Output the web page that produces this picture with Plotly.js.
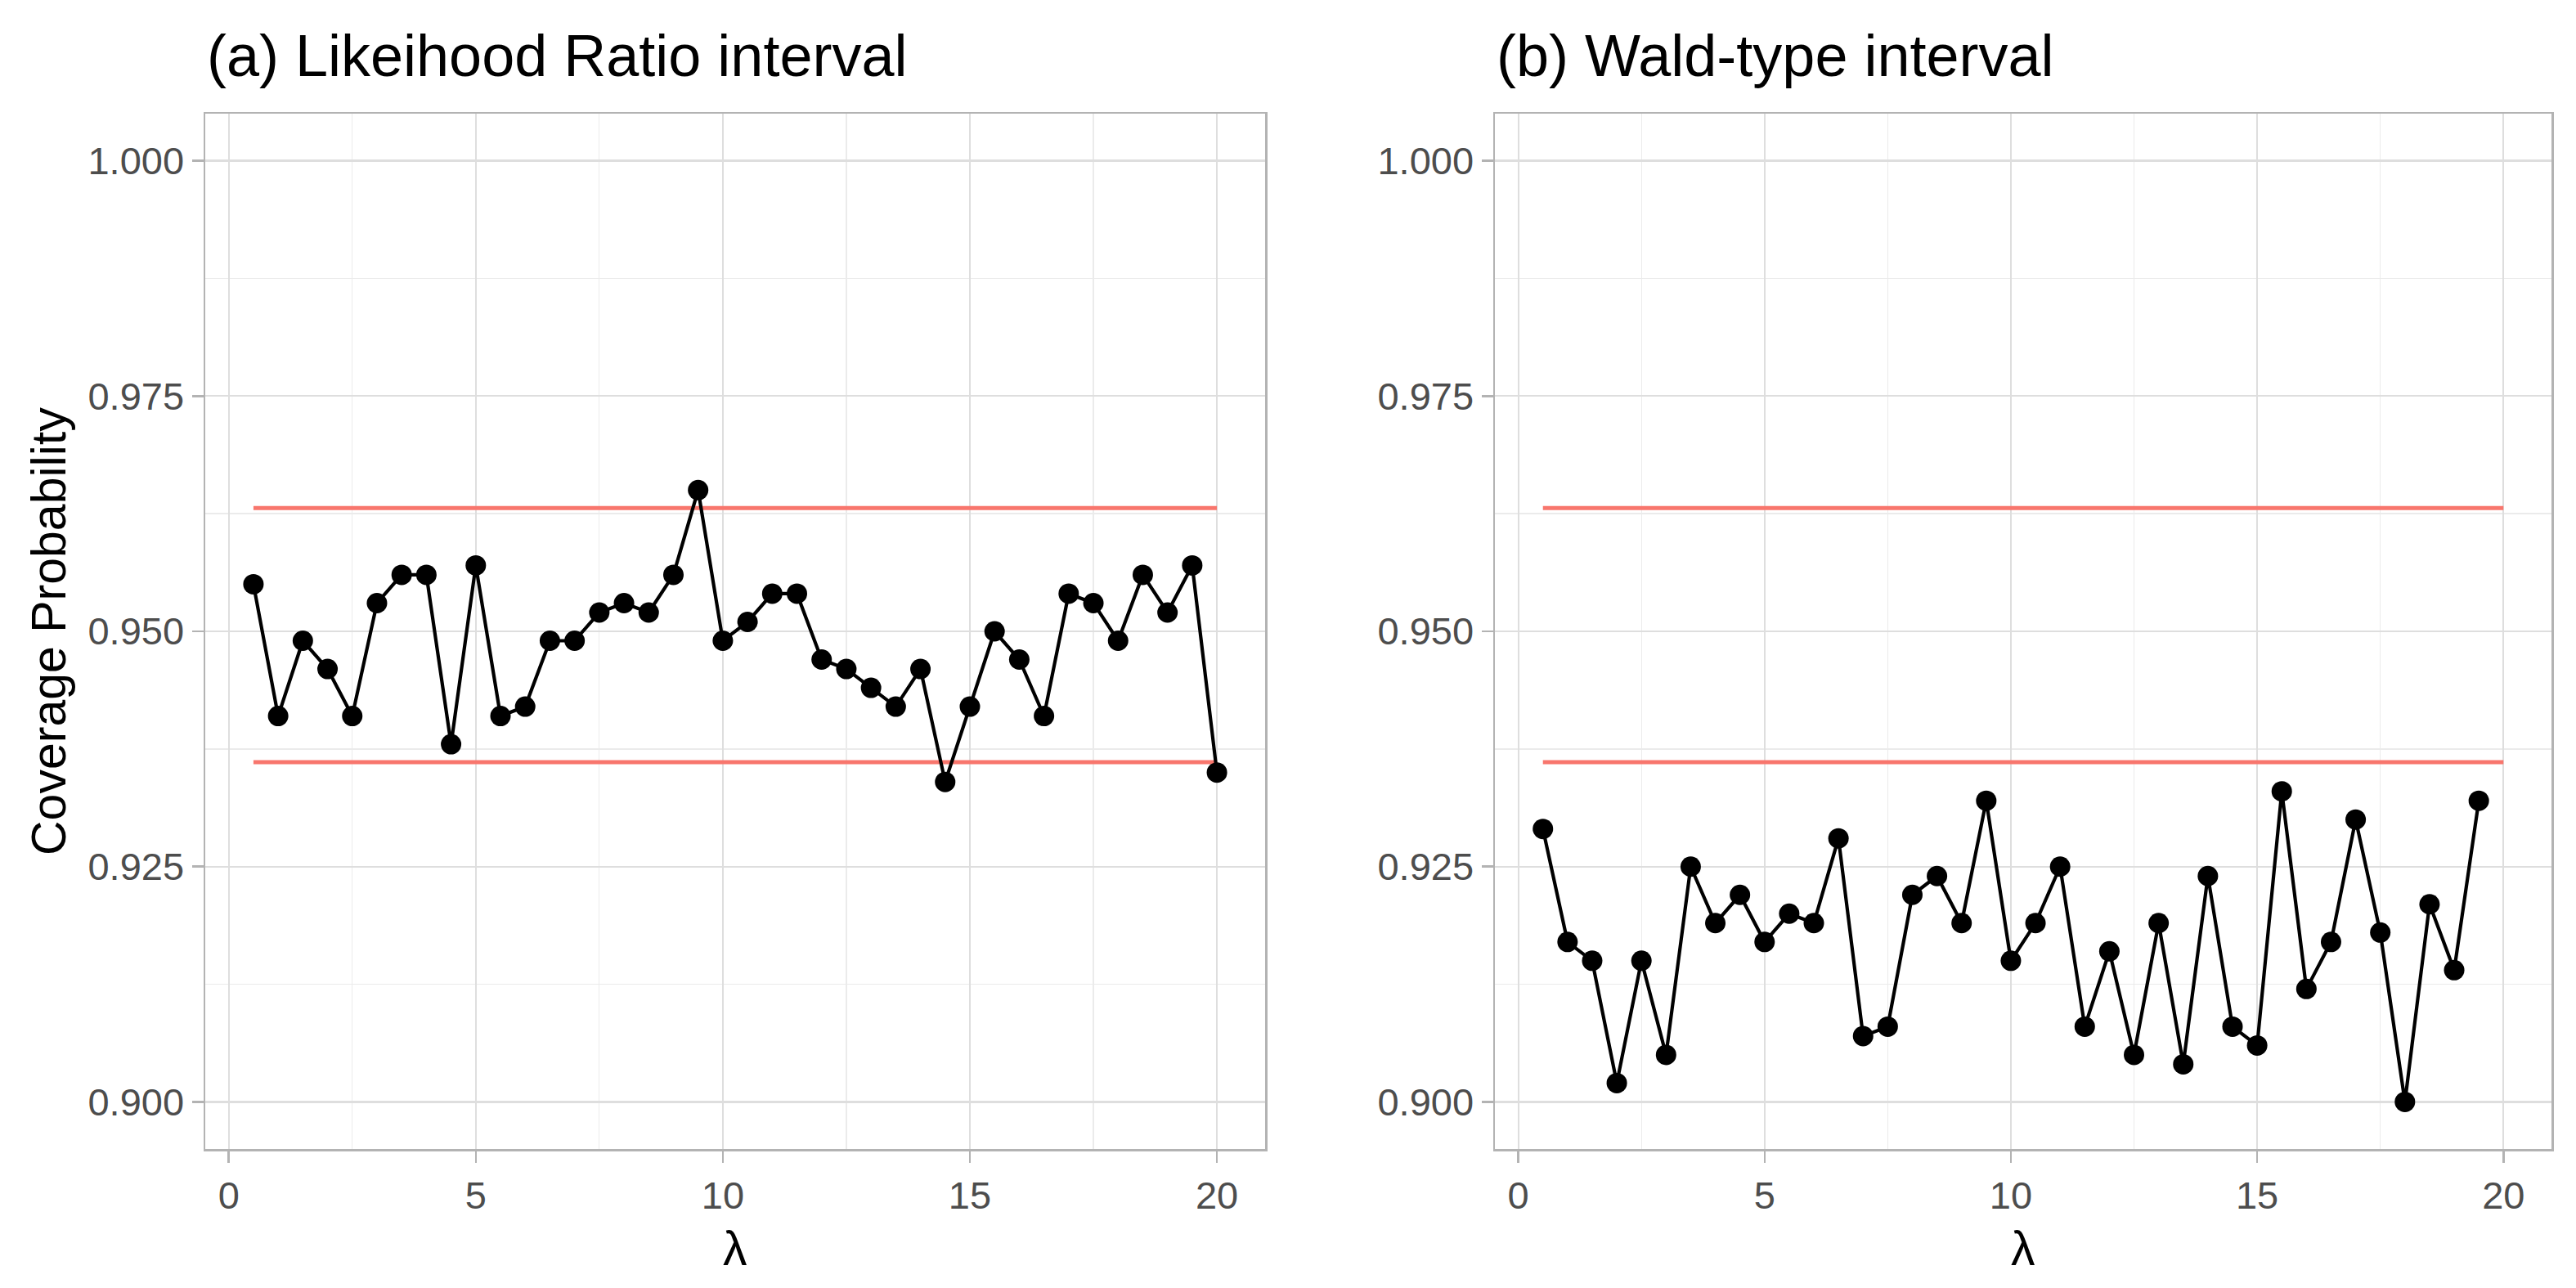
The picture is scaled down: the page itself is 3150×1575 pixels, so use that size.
<!DOCTYPE html>
<html>
<head>
<meta charset="utf-8">
<script src="https://cdn.plot.ly/plotly-3.0.1.min.js"></script>
<style>
  html, body { margin: 0; padding: 0; background: #fff; }
  #chart { width: 3150px; height: 1575px; }
</style>
</head>
<body>
<div id="chart"></div>
<script>
// coverage probabilities
const lambdaLR = [0.5, 1, 1.5, 2, 2.5, 3, 3.5, 4, 4.5, 5, 5.5, 6, 6.5, 7, 7.5, 8, 8.5, 9, 9.5, 10,
                  10.5, 11, 11.5, 12, 12.5, 13, 13.5, 14, 14.5, 15, 15.5, 16, 16.5, 17, 17.5, 18, 18.5, 19, 19.5, 20];
const coverageLR = [0.955, 0.941, 0.949, 0.946, 0.941, 0.953, 0.956, 0.956, 0.938, 0.957,
                    0.941, 0.942, 0.949, 0.949, 0.952, 0.953, 0.952, 0.956, 0.965, 0.949,
                    0.951, 0.954, 0.954, 0.947, 0.946, 0.944, 0.942, 0.946, 0.934, 0.942,
                    0.950, 0.947, 0.941, 0.954, 0.953, 0.949, 0.956, 0.952, 0.957, 0.935];

const lambdaWald = [0.5, 1, 1.5, 2, 2.5, 3, 3.5, 4, 4.5, 5, 5.5, 6, 6.5, 7, 7.5, 8, 8.5, 9, 9.5, 10,
                    10.5, 11, 11.5, 12, 12.5, 13, 13.5, 14, 14.5, 15, 15.5, 16, 16.5, 17, 17.5, 18, 18.5, 19, 19.5];
const coverageWald = [0.929, 0.917, 0.915, 0.902, 0.915, 0.905, 0.925, 0.919, 0.922, 0.917,
                      0.920, 0.919, 0.928, 0.907, 0.908, 0.922, 0.924, 0.919, 0.932, 0.915,
                      0.919, 0.925, 0.908, 0.916, 0.905, 0.919, 0.904, 0.924, 0.908, 0.906,
                      0.933, 0.912, 0.917, 0.930, 0.918, 0.900, 0.921, 0.914, 0.932];

// red band limits, drawn from lambda 0.5 to 20 in both panels
const bandX = [0.5, 20];
const bandLower = 0.9361;
const bandUpper = 0.9631;

const panelTitles = ['(a) Likeihood Ratio interval', '(b) Wald-type interval'];
const yLabel = 'Coverage Probability';
const xLabel = 'λ';

const FONT = 'Liberation Sans, Arial, sans-serif';
const RED = '#F8766D';

function bandTrace(level, xa, ya) {
  return {
    x: bandX, y: [level, level], xaxis: xa, yaxis: ya,
    mode: 'lines', line: { color: RED, width: 5 },
    hoverinfo: 'skip', showlegend: false
  };
}

function seriesTrace(xs, ys, xa, ya) {
  return {
    x: xs, y: ys, xaxis: xa, yaxis: ya,
    mode: 'lines+markers',
    line: { color: '#000', width: 4.2 },
    marker: { color: '#000', size: 25 },
    showlegend: false
  };
}

const traces = [
  bandTrace(bandUpper, 'x', 'y'),
  bandTrace(bandLower, 'x', 'y'),
  seriesTrace(lambdaLR, coverageLR, 'x', 'y'),
  bandTrace(bandUpper, 'x2', 'y2'),
  bandTrace(bandLower, 'x2', 'y2'),
  seriesTrace(lambdaWald, coverageWald, 'x2', 'y2')
];

const W = 3150, H = 1575;
const panelTop = 139, panelBottom = 1405;
const yDomain = [1 - panelBottom / H, 1 - panelTop / H];

function xAxis(left, right) {
  return {
    domain: [left / W, right / W],
    range: [-0.475, 20.975],
    tickmode: 'linear', tick0: 0, dtick: 5,
    ticks: 'outside', ticklen: 14, tickwidth: 2.5, tickcolor: '#B3B3B3',
    tickfont: { family: FONT, size: 47, color: '#4D4D4D' },
    showline: true, mirror: true, linecolor: '#B3B3B3', linewidth: 2.5,
    showgrid: true, gridcolor: '#DEDEDE', gridwidth: 2.2,
    minor: { dtick: 2.5, tick0: 0, ticks: '', ticklen: 0, showgrid: true, gridcolor: '#EBEBEB', gridwidth: 1.3 },
    zeroline: false, fixedrange: true
  };
}

function yAxis(anchor) {
  return {
    anchor: anchor,
    domain: yDomain,
    range: [0.895, 1.005],
    tickmode: 'linear', tick0: 0.9, dtick: 0.025, tickformat: '.3f',
    ticks: 'outside', ticklen: 14, tickwidth: 2.5, tickcolor: '#B3B3B3',
    tickfont: { family: FONT, size: 47, color: '#4D4D4D' },
    showline: true, mirror: true, linecolor: '#B3B3B3', linewidth: 2.5,
    showgrid: true, gridcolor: '#DEDEDE', gridwidth: 2.2,
    minor: { dtick: 0.0125, tick0: 0.9, ticks: '', ticklen: 0, showgrid: true, gridcolor: '#EBEBEB', gridwidth: 1.3 },
    zeroline: false, fixedrange: true
  };
}

const panels = [[251, 1547], [1828, 3120]];

const annotations = [];
panels.forEach(function (p, i) {
  annotations.push({
    text: panelTitles[i], xref: 'paper', yref: 'paper',
    x: p[0] / W, y: 1 - 110 / H, xanchor: 'left', yanchor: 'bottom',
    showarrow: false, font: { family: FONT, size: 72, color: '#000' }
  });
  annotations.push({
    text: xLabel, xref: 'paper', yref: 'paper',
    x: (p[0] + p[1]) / 2 / W, y: 1 - 1527 / H, xanchor: 'center', yanchor: 'middle',
    showarrow: false, font: { family: FONT, size: 59, color: '#000' }
  });
});
annotations.push({
  text: yLabel, xref: 'paper', yref: 'paper', textangle: -90,
  x: 60 / W, y: 1 - (panelTop + panelBottom) / 2 / H, xanchor: 'center', yanchor: 'middle',
  showarrow: false, font: { family: FONT, size: 59, color: '#000' }
});

const layout = {
  width: W, height: H,
  margin: { l: 0, r: 0, t: 0, b: 0 },
  paper_bgcolor: '#fff', plot_bgcolor: '#fff',
  xaxis: xAxis(panels[0][0], panels[0][1]),
  yaxis: yAxis('x'),
  xaxis2: Object.assign(xAxis(panels[1][0], panels[1][1]), { anchor: 'y2' }),
  yaxis2: yAxis('x2'),
  annotations: annotations,
  showlegend: false
};
layout.xaxis.anchor = 'y';

Plotly.newPlot('chart', traces, layout, { displayModeBar: false, staticPlot: true });
</script>
</body>
</html>
